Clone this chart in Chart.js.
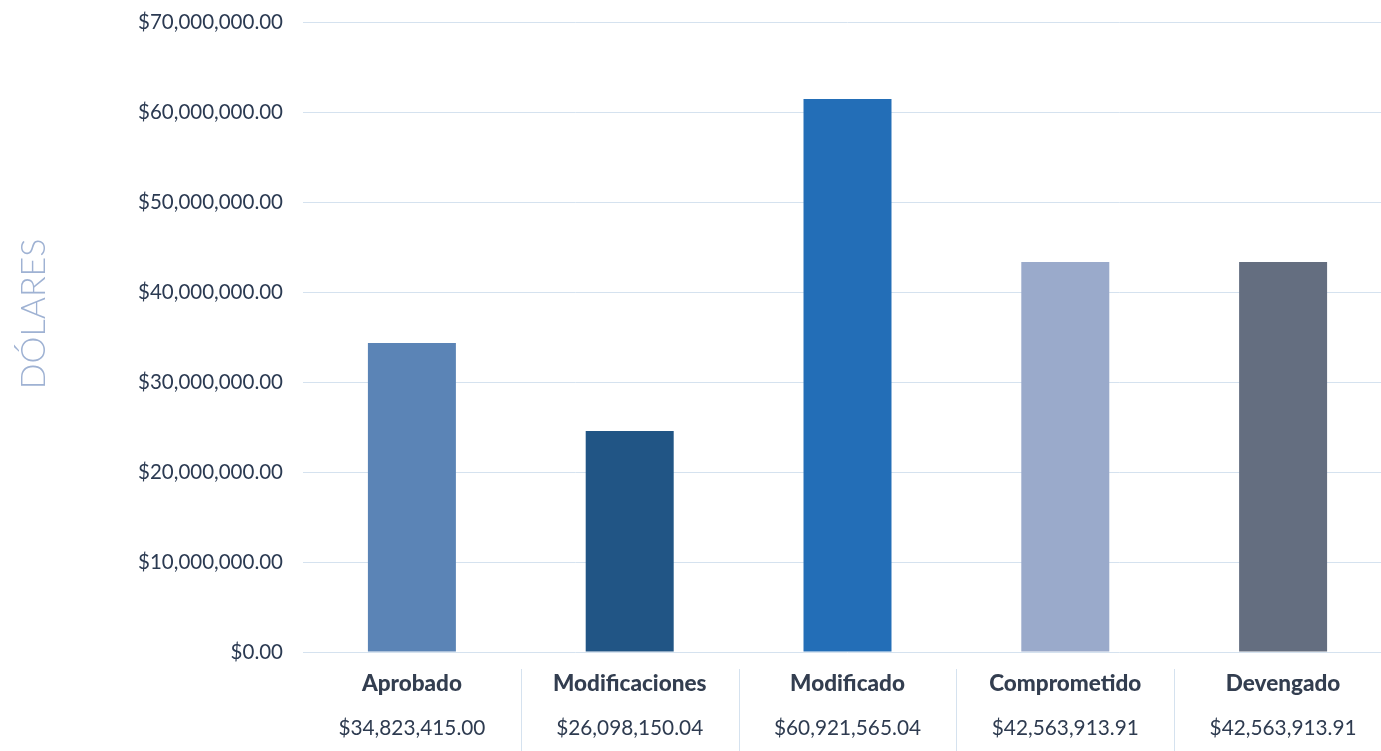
<!DOCTYPE html>
<html>
<head>
<meta charset="utf-8">
<script src="https://cdn.jsdelivr.net/npm/chart.js@4"></script>
<style>
  html, body { margin: 0; padding: 0; background: #ffffff; overflow: hidden; }
  #wrap { position: relative; width: 1400px; height: 751px; }
</style>
</head>
<body>
<div id="wrap"><canvas id="c"></canvas></div>
<script>
// ---- data ----
const categories = ['Aprobado', 'Modificaciones', 'Modificado', 'Comprometido', 'Devengado'];
const valueLabels = ['$34,823,415.00', '$26,098,150.04', '$60,921,565.04', '$42,563,913.91', '$42,563,913.91'];
const barValues = [34330000, 24560000, 61440000, 43330000, 43330000];
const barColors = ['#5b84b6', '#215585', '#236eb7', '#9aaacb', '#646e80'];
const yMin = 0;
const yMax = 70000000;
const yStep = 10000000;
const axisTitle = 'DÓLARES';

const fmt = v => '$' + Number(v).toLocaleString('en-US', { minimumFractionDigits: 2, maximumFractionDigits: 2 });
const gridBlue = '#d5e2ef';

// separators between category labels, placed from the x scale's own tick pixels
const separators = {
  id: 'separators',
  afterDraw(chart) {
    const xs = chart.scales.x;
    const ctx = chart.ctx;
    ctx.save();
    ctx.strokeStyle = gridBlue;
    ctx.lineWidth = 1;
    for (let i = 1; i < categories.length; i++) {
      const px = Math.round((xs.getPixelForTick(i - 1) + xs.getPixelForTick(i)) / 2) + 0.5;
      ctx.beginPath();
      ctx.moveTo(px, xs.top + 17);
      ctx.lineTo(px, chart.height);
      ctx.stroke();
    }
    ctx.restore();
  }
};

new Chart(document.getElementById('c'), {
  type: 'bar',
  data: {
    labels: categories,
    datasets: [{
      data: barValues,
      backgroundColor: barColors,
      borderWidth: 0,
      categoryPercentage: 1,
      barPercentage: 0.404,
      xAxisID: 'x',
      yAxisID: 'y'
    }]
  },
  plugins: [separators],
  options: {
    responsive: true,
    maintainAspectRatio: false,
    animation: false,
    layout: { padding: { left: 0, right: 8, top: 22, bottom: 11 } },
    plugins: { legend: { display: false }, tooltip: { enabled: false } },
    scales: {
      x: {
        type: 'category',
        position: 'bottom',
        weight: 0,
        offset: true,
        border: { display: false },
        grid: { display: false, drawTicks: false },
        ticks: {
          padding: 0,
          maxRotation: 0,
          autoSkip: false,
          color: '#333e50',
          font: { family: 'Lato', size: 22.5, weight: '900', lineHeight: '64px' }
        }
      },
      x2: {
        type: 'category',
        position: 'bottom',
        weight: 1,
        labels: valueLabels,
        offset: true,
        border: { display: false },
        grid: { display: false, drawTicks: false },
        ticks: {
          padding: 0,
          maxRotation: 0,
          autoSkip: false,
          color: '#2e3b50',
          font: { family: 'Lato', size: 20.8, weight: 'normal', lineHeight: '24px' }
        }
      },
      y: {
        min: yMin,
        max: yMax,
        border: { display: false },
        grid: { color: gridBlue, lineWidth: 1, drawTicks: false },
        afterFit: s => { s.width = 303; s.paddingTop = 0; s.paddingBottom = 0; },
        ticks: {
          stepSize: yStep,
          padding: 20,
          color: '#2b3a52',
          font: { family: 'Lato', size: 20.5 },
          callback: v => fmt(v)
        },
        title: {
          display: true,
          text: '     ' + axisTitle,
          color: '#9fb2d3',
          padding: { top: 14, bottom: 0 },
          font: { family: 'Lato', size: 34, weight: '300' }
        }
      }
    }
  }
});
</script>
</body>
</html>
